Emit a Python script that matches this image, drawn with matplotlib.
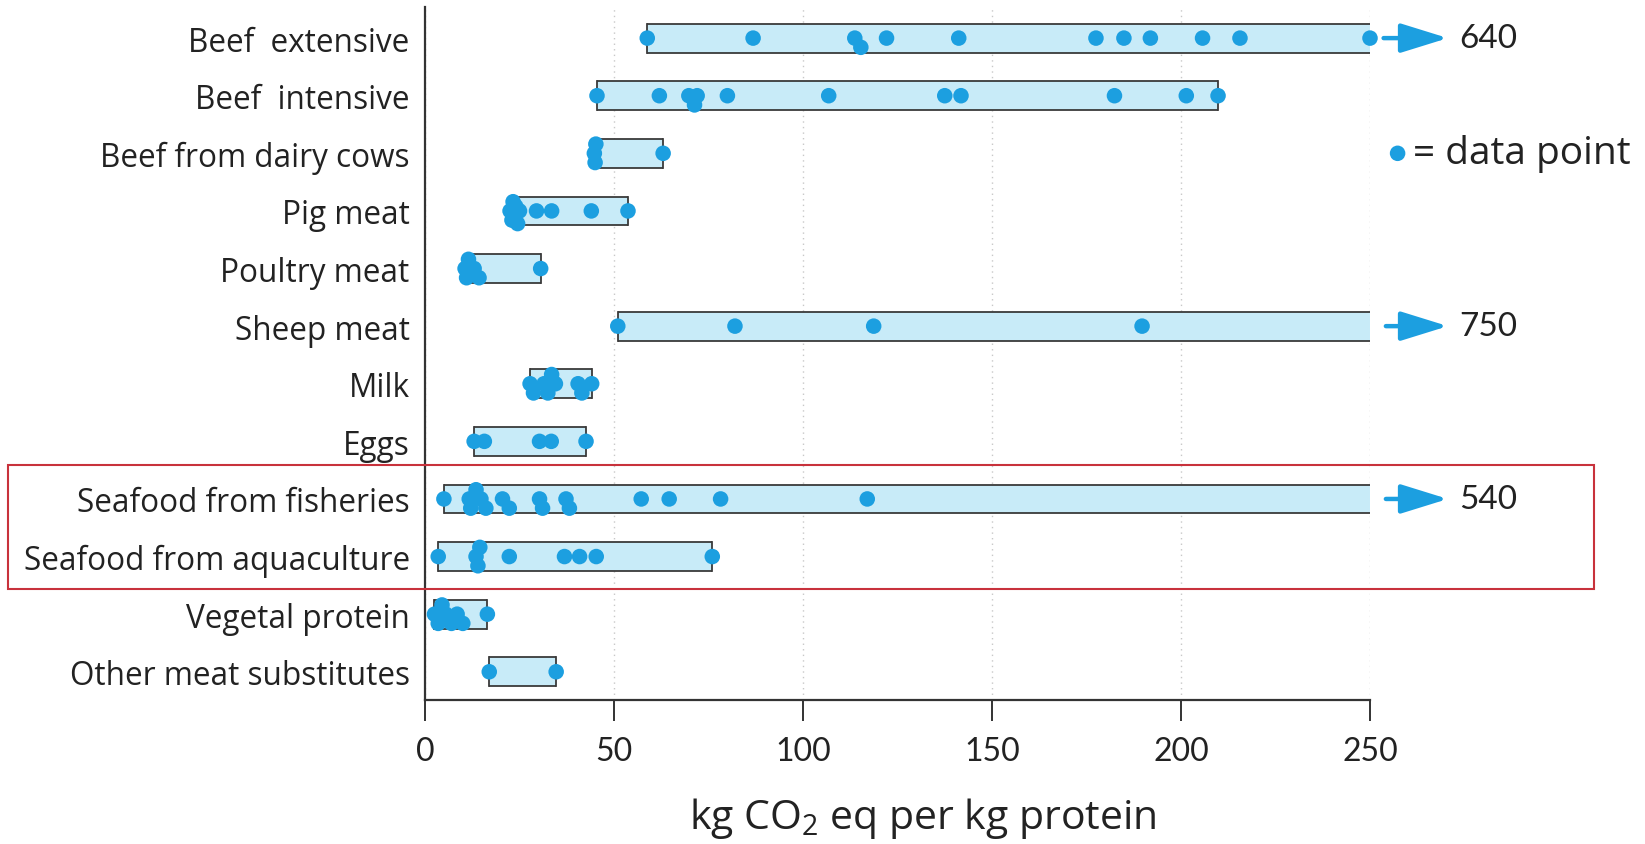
import matplotlib
matplotlib.use("Agg")
import matplotlib.pyplot as plt
from matplotlib.patches import Rectangle

plt.rcParams['font.family'] = ['Open Sans', 'DejaVu Sans']
plt.rcParams['mathtext.fontset'] = 'custom'
plt.rcParams['mathtext.rm'] = 'Open Sans'

categories = ["Beef  extensive", "Beef  intensive", "Beef from dairy cows", "Pig meat",
              "Poultry meat", "Sheep meat", "Milk", "Eggs", "Seafood from fisheries",
              "Seafood from aquaculture", "Vegetal protein", "Other meat substitutes"]

beef_extensive = [58.8, 86.8, 113.7, 115.3, 122.1, 141.2, 177.5, 184.9, 191.9, 205.7, 215.6, 250]
beef_intensive = [45.5, 62, 69.8, 71.3, 72, 80, 106.8, 137.5, 141.8, 182.4, 201.4, 209.8]
beef_dairy = [44.8, 45.0, 45.2, 63]
pig_meat = [22.5, 23, 23.3, 23.7, 24, 24.5, 25, 29.5, 33.5, 44, 53.7]
poultry_meat = [10.6, 11, 11.5, 12, 13, 14.3, 30.6]
sheep_meat = [51, 82, 118.7, 189.7]
milk = [27.8, 28.7, 31.5, 32.5, 33.5, 34.5, 40.5, 41.5, 44.1]
eggs = [13, 15.7, 30.3, 33.4, 42.6]
seafood_fisheries = [5, 11.7, 12.1, 13.5, 14.8, 16.1, 20.5, 22.3, 30.3, 31.1, 37.3, 38.2, 57.2, 64.6, 78.2, 117]
seafood_aquaculture = [3.5, 13.5, 14, 14.5, 22.3, 36.9, 40.9, 45.3, 76]
vegetal_protein = [2.5, 3.5, 4.5, 5.5, 7, 8.5, 10, 16.5]
other_substitutes = [17, 34.7]

series = [beef_extensive, beef_intensive, beef_dairy, pig_meat, poultry_meat, sheep_meat,
          milk, eggs, seafood_fisheries, seafood_aquaculture, vegetal_protein, other_substitutes]
off_scale_max = [640, None, None, None, None, 750, None, None, 540, None, None, None]

xticks = [0, 50, 100, 150, 200, 250]
XMAX = 250

DOT = '#1c9fe0'
FILL = '#c8ebf8'
EDGE = '#3a3a3a'
TXT = '#222222'

fig = plt.figure(figsize=(16.45, 8.45), dpi=100)
ax = fig.add_axes([425/1645, 1-701/845, (1370-425)/1645, (701-8)/845])

n = len(categories)
h = 0.5
offs = [0, 0.16, -0.16, 0.08, -0.08, 0.22, -0.22]
for i, pts in enumerate(series):
    lo = min(pts)
    hi = off_scale_max[i] if off_scale_max[i] is not None else max(pts)
    hc = min(hi, XMAX)
    ax.add_patch(Rectangle((lo, i - h/2), hc - lo, h, facecolor=FILL, edgecolor='none', zorder=2))
    ax.plot([lo, hc], [i - h/2, i - h/2], color=EDGE, lw=1.3, zorder=3, solid_capstyle='butt')
    ax.plot([lo, hc], [i + h/2, i + h/2], color=EDGE, lw=1.3, zorder=3, solid_capstyle='butt')
    ax.plot([lo, lo], [i - h/2, i + h/2], color=EDGE, lw=1.3, zorder=3)
    if hi <= XMAX:
        ax.plot([hc, hc], [i - h/2, i + h/2], color=EDGE, lw=1.3, zorder=3)
    # deterministic vertical dodge for overlapping dots
    ys = []
    placed = []
    for x in pts:
        used = {o for (px, o) in placed if abs(px - x) < 2.2}
        o = next((c for c in offs if c not in used), 0)
        placed.append((x, o))
        ys.append(i + o)
    ax.scatter(pts, ys, s=125, color=DOT, edgecolors='none', zorder=4, clip_on=False)
    if off_scale_max[i] is not None:
        start = 253.6 if max(pts) >= XMAX else 254.2
        ax.annotate('', xy=(270.6, i), xytext=(start, i),
                    arrowprops=dict(arrowstyle='-|>,head_length=1.45,head_width=0.45',
                                    mutation_scale=20, lw=3.2, color=DOT,
                                    shrinkA=0, shrinkB=0),
                    annotation_clip=False)
        ax.text(273.6, i, str(off_scale_max[i]), fontsize=24, va='center', ha='left',
                color=TXT, clip_on=False, family=['Lato', 'DejaVu Sans'])

# legend
ax.scatter([257.3], [2], s=125, color=DOT, edgecolors='none', clip_on=False, zorder=4)
ax.text(261.3, 2, "= data point", fontsize=28, va='center', ha='left', color=TXT, clip_on=False)

ax.set_xlim(0, XMAX)
ax.set_ylim(n - 1 + 0.49, -0.54)
ax.set_xticks(xticks)
ax.set_xticklabels([str(t) for t in xticks], fontsize=23, color=TXT, family=['Lato', 'DejaVu Sans'])
ax.set_yticks(range(n))
ax.set_yticklabels(categories, fontsize=22.7, color=TXT)
ax.tick_params(axis='y', length=0, pad=11)
ax.tick_params(axis='x', direction='out', length=15, width=1.4, pad=11, color='#333333')
for s in ['top', 'right']:
    ax.spines[s].set_visible(False)
for s in ['left', 'bottom']:
    ax.spines[s].set_linewidth(1.6)
    ax.spines[s].set_color('#333333')
ax.xaxis.grid(True, linestyle=(0, (1, 3)), color='#c8c8c8', lw=1)
ax.set_axisbelow(True)

fig.text(923/1645, 1 - 829/845, "kg CO$\\mathregular{_2}$ eq per kg protein", fontsize=29.5,
         ha='center', va='baseline', color=TXT)

fig.patches.append(Rectangle((8/1645, 1 - 590/845), (1594 - 8)/1645, (590 - 466)/845,
                             transform=fig.transFigure, fill=False, edgecolor='#c8323c', lw=1.5))

fig.savefig('out.png', dpi=100, facecolor='white')
